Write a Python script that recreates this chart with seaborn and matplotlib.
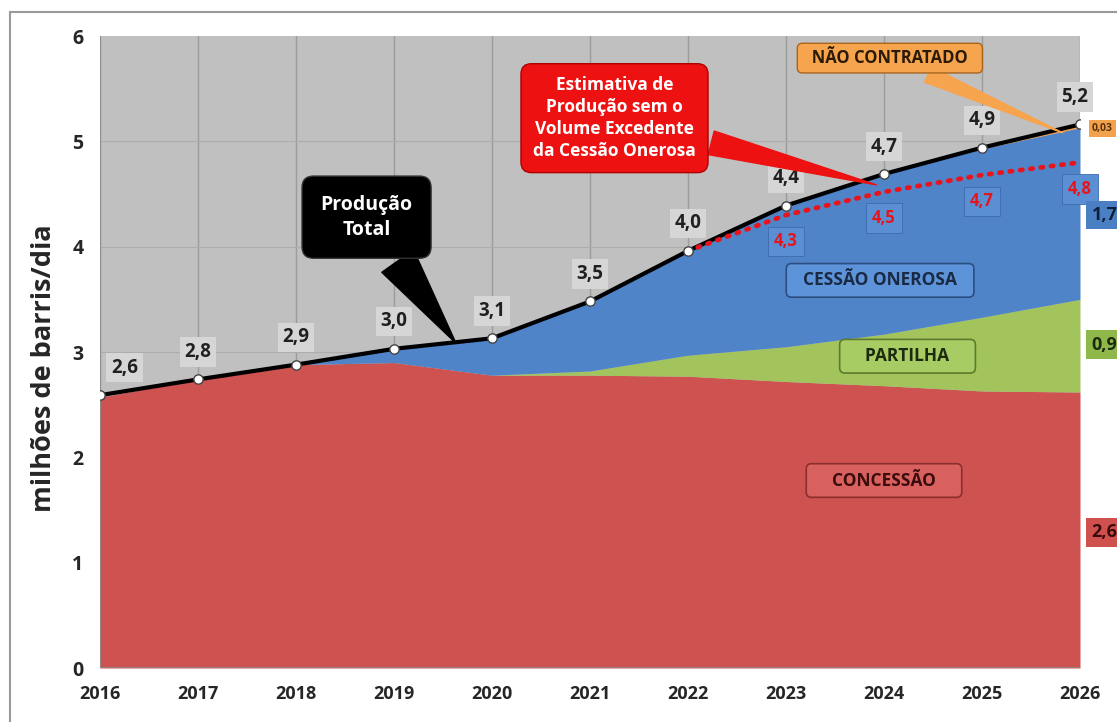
import numpy as np
import pandas as pd
import matplotlib
matplotlib.use("Agg")
import matplotlib.pyplot as plt
import seaborn as sns
from matplotlib.patches import Rectangle

# ---------------- data ----------------
years = [2016, 2017, 2018, 2019, 2020, 2021, 2022, 2023, 2024, 2025, 2026]
concessao = [2.57, 2.74, 2.88, 2.90, 2.78, 2.78, 2.77, 2.72, 2.68, 2.63, 2.62]
partilha = [0.00, 0.00, 0.00, 0.00, 0.00, 0.04, 0.20, 0.33, 0.49, 0.70, 0.88]
cessao = [0.00, 0.00, 0.00, 0.13, 0.35, 0.66, 0.99, 1.34, 1.52, 1.60, 1.63]
nao_contratado = [0.00, 0.00, 0.00, 0.00, 0.00, 0.00, 0.00, 0.00, 0.00, 0.01, 0.03]
total = [2.59, 2.74, 2.88, 3.03, 3.13, 3.48, 3.96, 4.39, 4.69, 4.94, 5.16]
total_labels = ["2,6", "2,8", "2,9", "3,0", "3,1", "3,5", "4,0", "4,4", "4,7", "4,9", "5,2"]
est_years = [2022, 2023, 2024, 2025, 2026]
estimativa = [3.96, 4.30, 4.52, 4.68, 4.80]
est_labels = ["", "4,3", "4,5", "4,7", "4,8"]
right_labels = ["2,6", "0,9", "1,7", "0,03"]
area_names = ["CONCESSÃO", "PARTILHA", "CESSÃO ONEROSA", "NÃO CONTRATADO"]
y_label = "milhões de barris/dia"

# ---------------- style ----------------
sns.set_theme(style="white")
plt.rcParams["font.family"] = ["Open Sans", "DejaVu Sans"]

RED = "#cd5250"
GREEN = "#a3c45c"
BLUE = "#4f84c9"
ORANGE = "#f4a04a"
PLOT_BG = "#c0c0c0"

fig = plt.figure(figsize=(11.17, 7.22), dpi=100)
fig.patch.set_facecolor("white")
ax = fig.add_axes([100 / 1117, 1 - 668 / 722, 980 / 1117, 632 / 722])
ax.set_facecolor(PLOT_BG)

# figure frame
fig.patches.append(Rectangle((10 / 1117, -0.01), 1.0, 1 - 12 / 722 + 0.01,
                             transform=fig.transFigure, fill=False,
                             edgecolor="#9a9a9a", linewidth=1.5, zorder=0))

# stacked areas
ax.stackplot(years, concessao, partilha, cessao, nao_contratado,
             colors=[RED, GREEN, BLUE, ORANGE], linewidth=0, zorder=2)

# total line
df_total = pd.DataFrame({"ano": years, "total": total})
sns.lineplot(data=df_total, x="ano", y="total", ax=ax, color="black",
             linewidth=3, zorder=4)
ax.scatter(years, total, s=45, color="white", edgecolor="#444444",
           linewidth=1, zorder=5)

# dotted estimate line
df_est = pd.DataFrame({"ano": est_years, "est": estimativa})
sns.lineplot(data=df_est, x="ano", y="est", ax=ax, color="#e8141c",
             linewidth=3.4, linestyle=(0, (0.5, 1.7)), zorder=4,
             dash_capstyle="round")

# axes
ax.set_xlim(2016, 2026)
ax.set_ylim(0, 6)
ax.set_xticks(years)
ax.set_xticklabels([str(y) for y in years], fontsize=13, fontweight="bold")
ax.set_yticks(range(0, 7))
ax.set_yticklabels([str(v) for v in range(0, 7)], fontsize=14, fontweight="bold")
ax.tick_params(axis="x", length=0, pad=12)
ax.tick_params(axis="y", length=0, pad=12)
ax.set_xlabel("")
ax.set_ylabel(y_label, fontsize=19.5, fontweight="bold")
ax.yaxis.set_label_coords(-0.044, 0.475)
for x in years:
    ax.axvline(x, color="#9c9c9c", linewidth=1, zorder=1)
for y in range(1, 6):
    ax.axhline(y, color="#adadad", linewidth=0.8, zorder=1)
for s in ax.spines.values():
    s.set_visible(False)
ax.axhline(0, color="#8a8a8a", linewidth=1.2, zorder=3)
ax.axvline(2016, color="#8a8a8a", linewidth=1.2, zorder=3)

# total labels
for i, (x, y, lab) in enumerate(zip(years, total, total_labels)):
    dx = 0.25 if i == 0 else (-0.05 if i == len(years) - 1 else 0)
    ax.text(x + dx, y + 0.26, lab, ha="center", va="center", fontsize=13.5,
            fontweight="bold", color="#202020", zorder=6,
            bbox=dict(boxstyle="square,pad=0.25", facecolor="#d6d6d6",
                      edgecolor="none"))

# estimate labels
for x, y, lab in zip(est_years, estimativa, est_labels):
    if not lab:
        continue
    ax.text(x, y - 0.25, lab, ha="center", va="center", fontsize=12,
            fontweight="bold", color="#e8141c", zorder=6,
            bbox=dict(boxstyle="square,pad=0.35", facecolor="#5a8fd4",
                      edgecolor="#3d6cae", linewidth=0.6))

# area name boxes
ax.text(2023.96, 3.68, "  " + area_names[2] + "  ", ha="center", va="center",
        fontsize=12.5, fontweight="bold", color="#1a2a44", zorder=6,
        bbox=dict(boxstyle="round,pad=0.45,rounding_size=0.3",
                  facecolor="#5d93d8", edgecolor="#2c4d80", linewidth=1.2))
ax.text(2024.24, 2.96, "    " + area_names[1] + "    ", ha="center", va="center",
        fontsize=12.5, fontweight="bold", color="#1e2a10", zorder=6,
        bbox=dict(boxstyle="round,pad=0.45,rounding_size=0.3",
                  facecolor="#a8cc64", edgecolor="#5c7a2c", linewidth=1.2))
ax.text(2024.0, 1.78, "    " + area_names[0] + "    ", ha="center", va="center",
        fontsize=12.5, fontweight="bold", color="#3a0c0c", zorder=6,
        bbox=dict(boxstyle="round,pad=0.45,rounding_size=0.3",
                  facecolor="#d8605e", edgecolor="#8c2e2c", linewidth=1.2))

# callouts
ax.annotate("Produção\nTotal", xy=(2019.65, 3.06), xytext=(2018.72, 4.28),
            ha="center", va="center", fontsize=14, fontweight="bold",
            color="white", zorder=7, linespacing=1.35,
            bbox=dict(boxstyle="round,pad=0.95,rounding_size=0.6",
                      facecolor="black", edgecolor="#333333"),
            arrowprops=dict(arrowstyle="wedge,tail_width=2.0,shrink_factor=0.5",
                            facecolor="black", edgecolor="black"))
ax.annotate("Estimativa de\nProdução sem o\nVolume Excedente\nda Cessão Onerosa",
            xy=(2023.95, 4.58), xytext=(2021.25, 5.22),
            ha="center", va="center", fontsize=12.5, fontweight="bold",
            color="white", zorder=7, linespacing=1.3,
            bbox=dict(boxstyle="round,pad=0.7,rounding_size=0.6",
                      facecolor="#ee1111", edgecolor="#b00000"),
            arrowprops=dict(arrowstyle="wedge,tail_width=1.4,shrink_factor=0.5",
                            facecolor="#ee1111", edgecolor="#ee1111"))
ax.annotate("  " + area_names[3] + "  ", xy=(2025.85, 5.07), xytext=(2024.06, 5.79),
            ha="center", va="center", fontsize=12, fontweight="bold",
            color="#2a1a06", zorder=7,
            bbox=dict(boxstyle="round,pad=0.35,rounding_size=0.3",
                      facecolor="#f7a44e", edgecolor="#a8651c"),
            arrowprops=dict(arrowstyle="wedge,tail_width=1.0,shrink_factor=0.5",
                            facecolor="#f7a44e", edgecolor="#f7a44e"))

# right-side value labels
right_y = [1.29, 3.07, 4.30, 5.12]
right_fc = ["#d0504e", "#8fb84a", "#4a7fc4", "#f2a24c"]
right_tc = ["#3a0a0a", "#1e2a10", "#10203a", "#5a3008"]
right_fs = [13, 13, 13, 7.5]
for lab, y, fc, tc, fs in zip(right_labels, right_y, right_fc, right_tc, right_fs):
    ax.text(2026.12, y, lab, ha="left", va="center", fontsize=fs,
            fontweight="bold", color=tc, zorder=7, clip_on=False,
            bbox=dict(boxstyle="square,pad=0.3", facecolor=fc,
                      edgecolor="none"))

fig.savefig("out.png", dpi=100, facecolor="white")
